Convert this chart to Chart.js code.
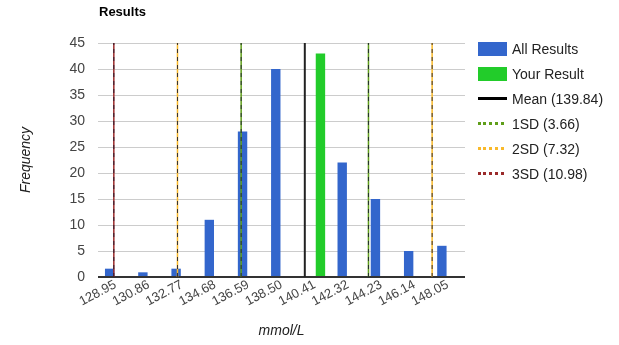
<!DOCTYPE html>
<html>
<head>
<meta charset="utf-8">
<script src="https://cdn.jsdelivr.net/npm/chart.js@4"></script>
<style>
  html, body { margin: 0; padding: 0; background: #fff; }
  #wrap { position: relative; width: 619px; height: 345px; font-family: Arial, 'Liberation Sans', sans-serif; }
  #title { position: absolute; left: 99px; top: 4px; font-size: 13px; font-weight: bold; color: #000; }
  #legend { position: absolute; left: 478px; top: 36px; font-size: 14px; color: #222; }
  .row { height: 25px; display: flex; align-items: center; }
  .sw { width: 29px; height: 14px; margin-right: 5px; }
  .ln { width: 29px; height: 0; margin-right: 5px; }
</style>
</head>
<body>
<div id="wrap">
  <canvas id="resultsChart" width="619" height="345"></canvas>
  <div id="title">Results</div>
  <div id="legend"></div>
</div>
<script>
// ข้อมูลของกราฟ
const binLabels = [128.95, 130.86, 132.77, 134.68, 136.59, 138.50, 140.41, 142.32, 144.23, 146.14, 148.05];
const allResults = [1.6, 0.9, 1.6, 11, 28, 40, null, 22, 15, 5, 6];
const yourResult = [null, null, null, null, null, null, 43, null, null, null, null];
const meanValue = 139.84;
const sdNames = ['1SD', '2SD', '3SD'];
const sdValues = [3.66, 7.32, 10.98];
const sdColors = ['#5f9e1a', '#f9b92a', '#9a2a2a'];
const yMax = 45;

const blue = '#3366cc';
const green = '#22cc2a';

// จับคู่ค่ากับตำแหน่งแกน x
function toPoints(values) {
    return binLabels.map((x, i) => ({ x: x, y: values[i] }));
}

// เส้นแนวตั้ง 2 เส้น (mean - sd และ mean + sd)
function sdPoints(sd) {
    return [
        { x: meanValue - sd, y: 0 }, { x: meanValue - sd, y: yMax },
        { x: meanValue - sd, y: null },
        { x: meanValue + sd, y: 0 }, { x: meanValue + sd, y: yMax }
    ];
}

const datasets = [];
datasets.push({
    type: 'line', label: 'Mean', order: 0,
    data: [{ x: meanValue, y: 0 }, { x: meanValue, y: yMax }],
    borderColor: '#222', borderWidth: 2, pointRadius: 0
});
sdValues.forEach((sd, i) => {
    // เส้นประสีเข้ม (วาดทับด้านบน)
    datasets.push({
        type: 'line', label: sdNames[i] + ' dash', order: 0,
        data: sdPoints(sd), borderColor: 'rgba(25,25,45,0.85)', borderWidth: 1,
        borderDash: [4, 4], pointRadius: 0, spanGaps: false
    });
    datasets.push({
        type: 'line', label: sdNames[i], order: 0,
        data: sdPoints(sd), borderColor: sdColors[i], borderWidth: 1.5,
        pointRadius: 0, spanGaps: false
    });
});
datasets.push({
    label: 'All Results', order: 1, data: toPoints(allResults),
    backgroundColor: blue, categoryPercentage: 0.69, barPercentage: 0.82
});
datasets.push({
    label: 'Your Result', order: 1, data: toPoints(yourResult),
    backgroundColor: green, categoryPercentage: 0.69, barPercentage: 0.82
});

const tickFont = { family: "Arial, 'Liberation Sans', sans-serif", size: 14 };

new Chart(document.getElementById('resultsChart'), {
    type: 'bar',
    data: { datasets: datasets },
    options: {
        responsive: false,
        animation: false,
        layout: { padding: { top: 43, right: 154, bottom: 0, left: 0 } },
        plugins: { legend: { display: false }, tooltip: { enabled: false } },
        scales: {
            x: {
                type: 'linear',
                min: 127.95,
                max: 149.05,
                offset: false,
                grid: { display: false, drawTicks: false },
                border: { display: false },
                afterBuildTicks: (scale) => { scale.ticks = binLabels.map(v => ({ value: v })); },
                afterFit: (scale) => { scale.height = 68; },
                ticks: {
                    autoSkip: false, minRotation: 28, maxRotation: 28, padding: 0,
                    color: '#444', font: { family: tickFont.family, size: 13 },
                    callback: (v) => Number(v).toFixed(2)
                },
                title: {
                    display: true, text: 'mmol/L', color: '#222',
                    font: { family: tickFont.family, size: 14, style: 'italic' },
                    padding: { top: 0, bottom: 5 }
                }
            },
            y: {
                min: 0,
                max: yMax,
                afterFit: (scale) => { scale.width = 98; },
                border: { display: false },
                grid: {
                    drawTicks: false,
                    color: (c) => c.tick.value === 0 ? '#333' : (c.tick.value % 5 === 0 ? '#cccccc' : '#ebebeb'),
                    lineWidth: (c) => c.tick.value === 0 ? 2 : 1
                },
                ticks: {
                    stepSize: 2.5, padding: 13, color: '#444', font: tickFont,
                    callback: (v) => v % 5 === 0 ? v : ''
                },
                title: {
                    display: true, text: 'Frequency', color: '#222',
                    font: { family: tickFont.family, size: 14, style: 'italic' },
                    padding: { top: 18, bottom: 0 }
                }
            }
        }
    }
});

// คำอธิบายกราฟ (legend) ด้านขวา
const legendItems = [
    { text: 'All Results', kind: 'box', color: blue },
    { text: 'Your Result', kind: 'box', color: green },
    { text: 'Mean (' + meanValue.toFixed(2) + ')', kind: 'solid', color: '#000' },
    { text: sdNames[0] + ' (' + sdValues[0].toFixed(2) + ')', kind: 'dot', color: sdColors[0] },
    { text: sdNames[1] + ' (' + sdValues[1].toFixed(2) + ')', kind: 'dot', color: sdColors[1] },
    { text: sdNames[2] + ' (' + sdValues[2].toFixed(2) + ')', kind: 'dot', color: sdColors[2] }
];
const legendEl = document.getElementById('legend');
legendItems.forEach(item => {
    const row = document.createElement('div');
    row.className = 'row';
    const sw = document.createElement('div');
    if (item.kind === 'box') {
        sw.className = 'sw';
        sw.style.background = item.color;
    } else {
        sw.className = 'ln';
        sw.style.borderTop = item.kind === 'solid' ? '3px solid ' + item.color : '3px dotted ' + item.color;
        if (item.kind === 'dot') sw.style.width = '26px';
        if (item.kind === 'dot') sw.style.marginRight = '8px';
    }
    row.appendChild(sw);
    const label = document.createElement('span');
    label.textContent = item.text;
    row.appendChild(label);
    legendEl.appendChild(row);
});
</script>
</body>
</html>
